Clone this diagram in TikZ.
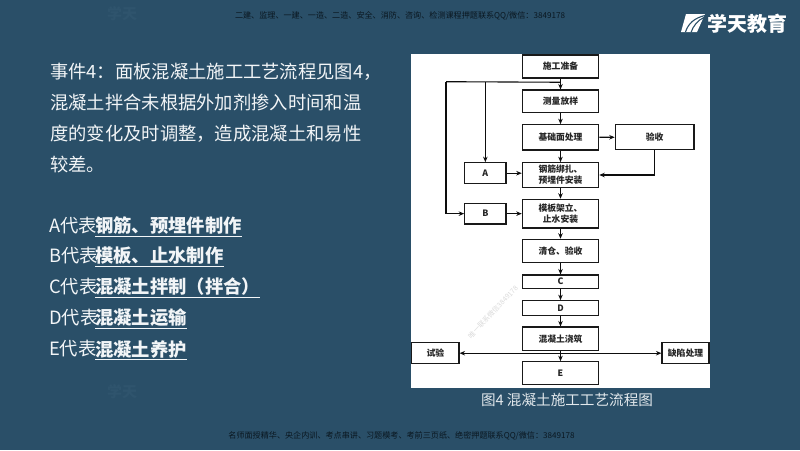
\documentclass[tikz,border=0pt]{standalone}
\usepackage{fontspec}
\setmainfont{Noto Sans CJK SC}
\usetikzlibrary{arrows.meta,calc}
\definecolor{bgc}{HTML}{2A4F68}
\definecolor{wmc}{HTML}{2F546D}
\definecolor{txc}{HTML}{F2F5F7}
\definecolor{smc}{HTML}{0A1720}
\newcommand{\fs}[1]{\fontsize{#1}{#1}\selectfont}
\tikzset{
  x=1pt,y=-1pt,
  fbox/.style={draw=black!90,line width=1.1pt,fill=white,text=black!85,inner sep=0pt,align=center,font=\fontsize{8.8}{11}\selectfont\bfseries},
  link/.style={draw=black!95,line width=1.1pt,-{Stealth[length=5.5pt,width=4.5pt]}},
  plain/.style={draw=black!95,line width=1.1pt},
  body/.style={anchor=west,inner sep=0pt,text=txc,font=\fs{18.3}},
  key/.style={anchor=west,inner sep=0pt,text=txc,font=\fs{18.3}\bfseries},
  uline/.style={draw=txc,line width=0.9pt},
  small/.style={inner sep=0pt,text=smc,font=\fs{8.1}},
  wm/.style={inner sep=0pt,text=wmc,font=\fs{15}\bfseries},
}
\newcommand{\fb}[7]{\node[fbox,minimum width=#4-#3,minimum height=#6-#5] (#1) at ({(#3+#4)/2},{(#5+#6)/2}) {#7};}
\begin{document}
\begin{tikzpicture}
\useasboundingbox (0,0) rectangle (800,450);
\fill[bgc] (0,0) rectangle (800,450);
% faint background marks
\node[wm] (w1) at (122,14) {学天};
\node[wm] (w2) at (122,392) {学天};
% top and bottom small lines
\node[small] (top) at (400,16) {二建、监理、一建、一造、二造、安全、消防、咨询、检测课程押题联系QQ/微信：3849178};
\node[small] (bot) at (401.5,436) {名师面授精华、央企内训、考点串讲、习题模考、考前三页纸、绝密押题联系QQ/微信：3849178};
% logo
\fill[white] (686,14) -- (705,14) -- (697,32) -- (681,32) -- cycle;
\draw[bgc,line width=1.1pt] (685.5,32) .. controls (688,24) and (694,18) .. (705,15.5);
\draw[bgc,line width=1.1pt] (691,32.5) .. controls (693,26) and (698,20) .. (704,17.5);
\node[inner sep=0pt,text=white,font=\fs{20}\bfseries] (logo) at (747.5,24) {学天教育};
% left text
\node[body] (l1) at (50,72) {事件4：面板混凝土施工工艺流程见图4，};
\node[body] (l2) at (50,102.5) {混凝土拌合未根据外加剂掺入时间和温};
\node[body] (l3) at (50,133.5) {度的变化及时调整，造成混凝土和易性};
\node[body] (l4) at (50,164.5) {较差。};
\foreach \n/\y/\lab/\val in {a/226/A/钢筋、预埋件制作,b/256/B/模板、止水制作,c/287/C/{混凝土拌制（拌合）},d/318/D/混凝土运输,e/349/E/混凝土养护}{
  \node[body] (\n1) at (49,\y) {\lab 代表};
  \node[key] (\n2) at (95,\y) {\val};
  \draw[uline] ($(\n2.west)+(0,10.5)$) -- ($(\n2.east)+(0,10.5)$);
}
% panel
\fill[white] (411,54) rectangle (710,388);
\node[rotate=47,inner sep=0pt,text=black!14,font=\fs{7}] (mark) at (493,312) {唯一联系微信3849178};
% flow boxes
\fb{s1}{}{522.3}{598.7}{55}{78}{施工准备}
\fb{s2}{}{522.3}{598.7}{90}{112.7}{测量放样}
\fb{s3}{}{522.3}{598.7}{124.7}{150}{基础面处理}
\fb{acc}{}{615.3}{694}{124.7}{149.7}{验收}
\fb{s4}{}{522.3}{598.7}{162.7}{187.3}{钢筋绑扎、\\预埋件安装}
\fb{A}{}{464.7}{506}{162.7}{183.7}{A}
\fb{s5}{}{522.3}{598.7}{199.3}{228}{模板架立、\\止水安装}
\fb{B}{}{464.7}{506}{203.3}{224}{B}
\fb{s6}{}{522.3}{598.7}{239.3}{262.7}{清仓、验收}
\fb{C}{}{522.3}{598.7}{275}{288.3}{C}
\fb{D}{}{522.3}{598.7}{300.7}{315.7}{D}
\fb{s7}{}{522.3}{598.7}{327}{350.3}{混凝土浇筑}
\fb{E}{}{522.3}{598.7}{361.7}{384.7}{E}
\fb{test}{}{411.7}{459}{342.7}{363.7}{试验}
\fb{fix}{}{662}{709}{342.7}{363.7}{缺陷处理}
% connectors
\coordinate (j1) at ($(s1.south)+(0,3.7)$);
\coordinate (j1a) at (A.north |- j1);
\coordinate (j1b) at (446,81.7);
\coordinate (j2) at (s7.south |- test.east);
\draw[link] (s1) -- (s2);
\draw[plain] (j1) -- (j1b);
\draw[link] (j1a) -- (A);
\draw[link] (j1b) |- (B);
\draw[link] (s2) -- (s3);
\draw[link] (s3) -- (s4);
\draw[link] (s3) -- (acc);
\draw[link] (acc.south) |- (s4.east);
\draw[link] (A.east) -- (A.east -| s4.west);
\draw[link] (B.east) -- (B.east -| s5.west);
\draw[link] (s4) -- (s5);
\draw[link] (s5) -- (s6);
\draw[link] (s6) -- (C);
\draw[link] (C) -- (D);
\draw[link] (D) -- (s7);
\draw[link] (s7) -- (E);
\draw[link] (j2) -- (test.east);
\draw[link] (j2) -- (fix.west);
% caption
\node[inner sep=0pt,text=txc!92!bgc,font=\fs{14.6}] (cap) at (567,400) {图4 混凝土施工工艺流程图};
\end{tikzpicture}
\end{document}
